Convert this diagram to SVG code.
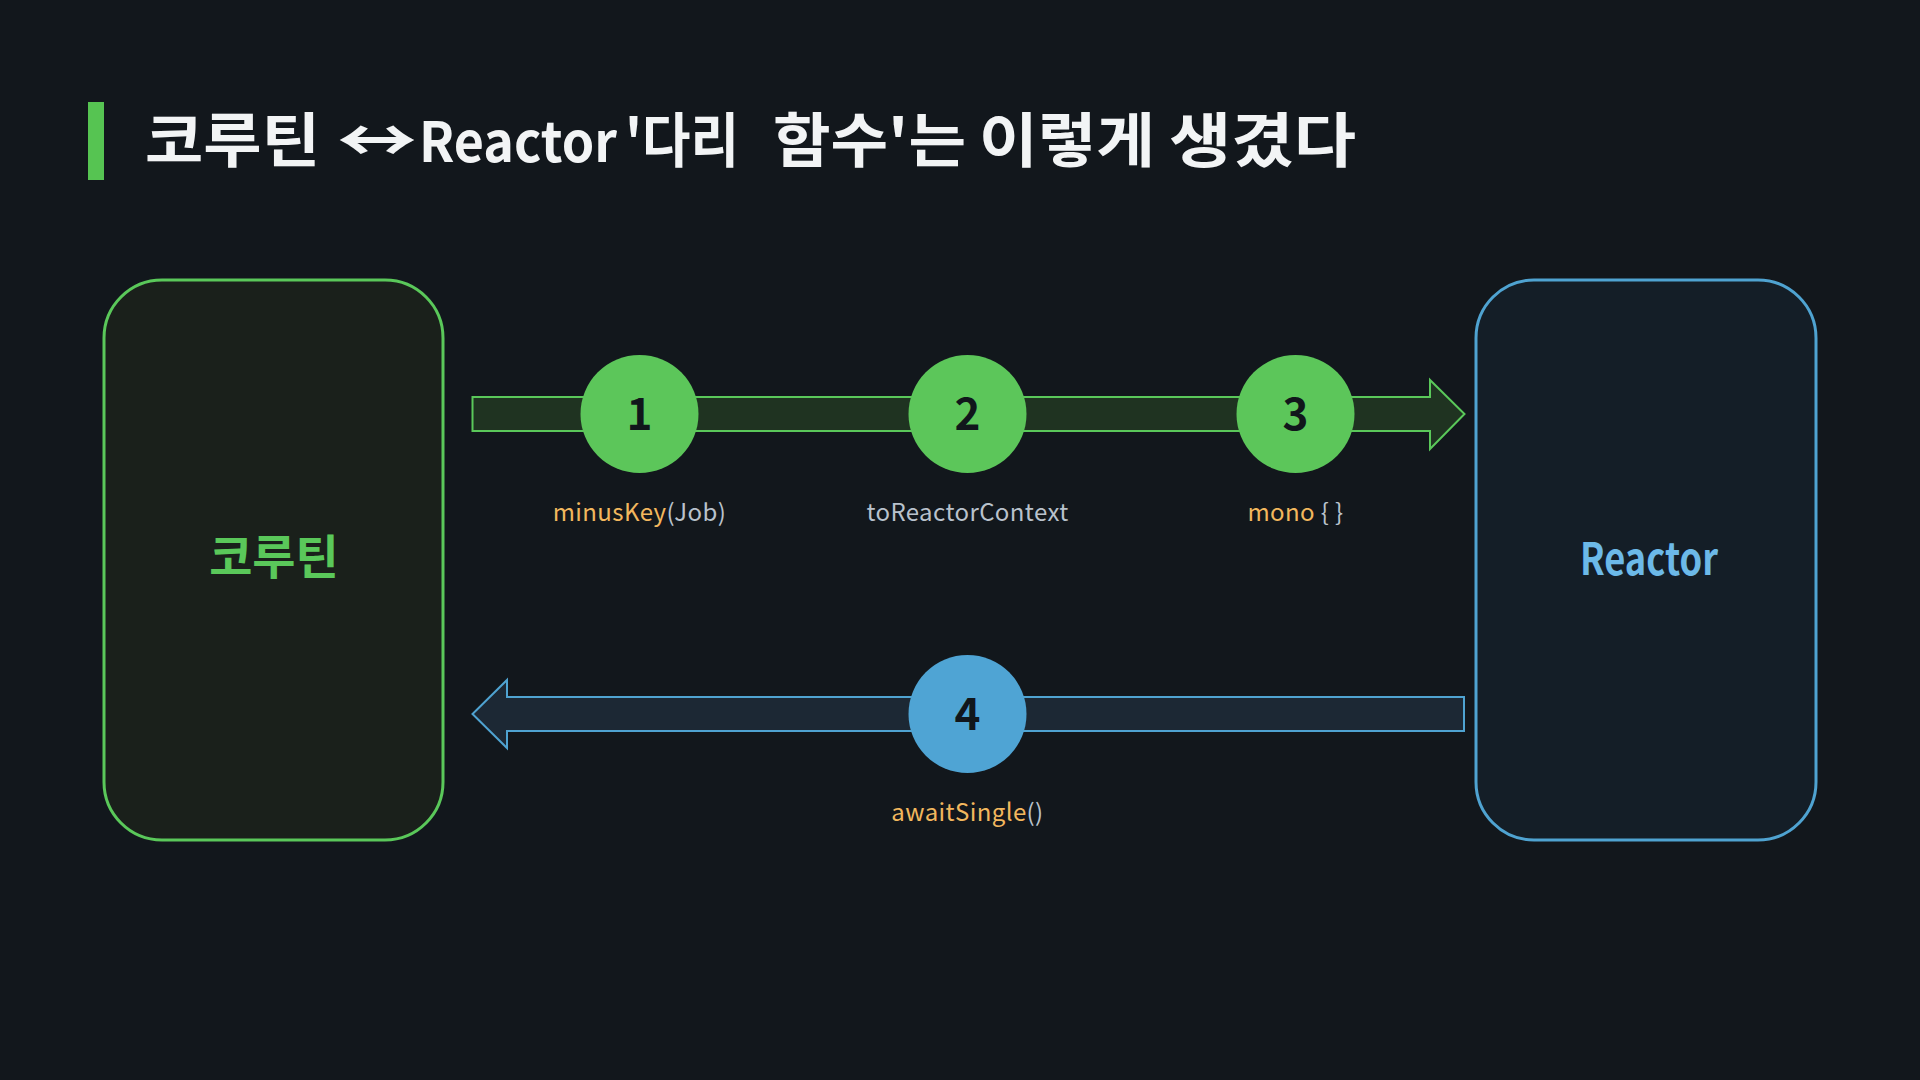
<svg xmlns="http://www.w3.org/2000/svg" width="1920" height="1080" viewBox="0 0 1920 1080">
<style>
.t{font-family:"Noto Sans CJK KR","Noto Sans",sans-serif}
.title{font-size:59px;font-weight:700;fill:#f2f4f5}
.sp{font-size:8px}
.num{font-size:44px;font-weight:700;fill:#11161b;text-anchor:middle}
.lbl{font-size:24px;text-anchor:middle;fill:#b9c2cc;letter-spacing:0.4px}
.fn{fill:#f2b75e}
.gc{fill:#5cc65a}
.bc{fill:#4fa4d4}
</style>
<rect width="1920" height="1080" fill="#12171c"/>
<rect x="88" y="102" width="16" height="78" fill="#56c452"/>
<text class="t title" y="162"><tspan x="145" textLength="175" lengthAdjust="spacingAndGlyphs">코루틴</tspan><tspan class="sp"> </tspan><tspan x="337" textLength="80" lengthAdjust="spacingAndGlyphs">↔</tspan><tspan class="sp"> </tspan><tspan x="419" font-size="55" textLength="198" lengthAdjust="spacingAndGlyphs">Reactor</tspan><tspan class="sp"> </tspan><tspan x="625" textLength="114" lengthAdjust="spacingAndGlyphs">'다리</tspan><tspan class="sp"> </tspan><tspan x="773" textLength="193" lengthAdjust="spacingAndGlyphs">함수'는</tspan><tspan class="sp"> </tspan><tspan x="979" textLength="176" lengthAdjust="spacingAndGlyphs">이렇게</tspan><tspan class="sp"> </tspan><tspan x="1169" textLength="187" lengthAdjust="spacingAndGlyphs">생겼다</tspan></text>

<g id="connectors">
  <path d="M472.5,397 H1430 V380 L1464.5,414 L1430,449 V431 H472.5 Z" fill="#1f3321" stroke="#5ac85a" stroke-width="2"/>
  <path d="M1464,697 H507 V680 L472.5,714 L507,748 V731 H1464 Z" fill="#1c2834" stroke="#4fa3d1" stroke-width="2"/>
</g>

<g id="node-coroutine">
  <rect x="104" y="280" width="339" height="560" rx="58" fill="#1a201b" stroke="#5ac85a" stroke-width="3"/>
  <text class="t" x="274" y="574" font-size="47" font-weight="700" fill="#5ac85a" text-anchor="middle">코루틴</text>
</g>
<g id="node-reactor">
  <rect x="1476" y="280" width="340" height="560" rx="58" fill="#141e27" stroke="#4fa3d1" stroke-width="3"/>
  <text class="t" x="1649" y="575" font-size="44" font-weight="700" fill="#6cb9e8" text-anchor="middle" textLength="138" lengthAdjust="spacingAndGlyphs">Reactor</text>
</g>

<g id="step1">
  <circle class="gc" cx="639.5" cy="414" r="59"/>
  <text class="t num" x="639.5" y="430">1</text>
  <text class="t lbl" x="639.5" y="521"><tspan class="fn">minusKey</tspan>(Job)</text>
</g>
<g id="step2">
  <circle class="gc" cx="967.5" cy="414" r="59"/>
  <text class="t num" x="967.5" y="430">2</text>
  <text class="t lbl" x="967.5" y="521">toReactorContext</text>
</g>
<g id="step3">
  <circle class="gc" cx="1295.5" cy="414" r="59"/>
  <text class="t num" x="1295.5" y="430">3</text>
  <text class="t lbl" x="1295.5" y="521"><tspan class="fn">mono</tspan> { }</text>
</g>
<g id="step4">
  <circle class="bc" cx="967.5" cy="714" r="59"/>
  <text class="t num" x="967.5" y="730">4</text>
  <text class="t lbl" x="967.5" y="821"><tspan class="fn">awaitSingle</tspan>()</text>
</g>
</svg>
